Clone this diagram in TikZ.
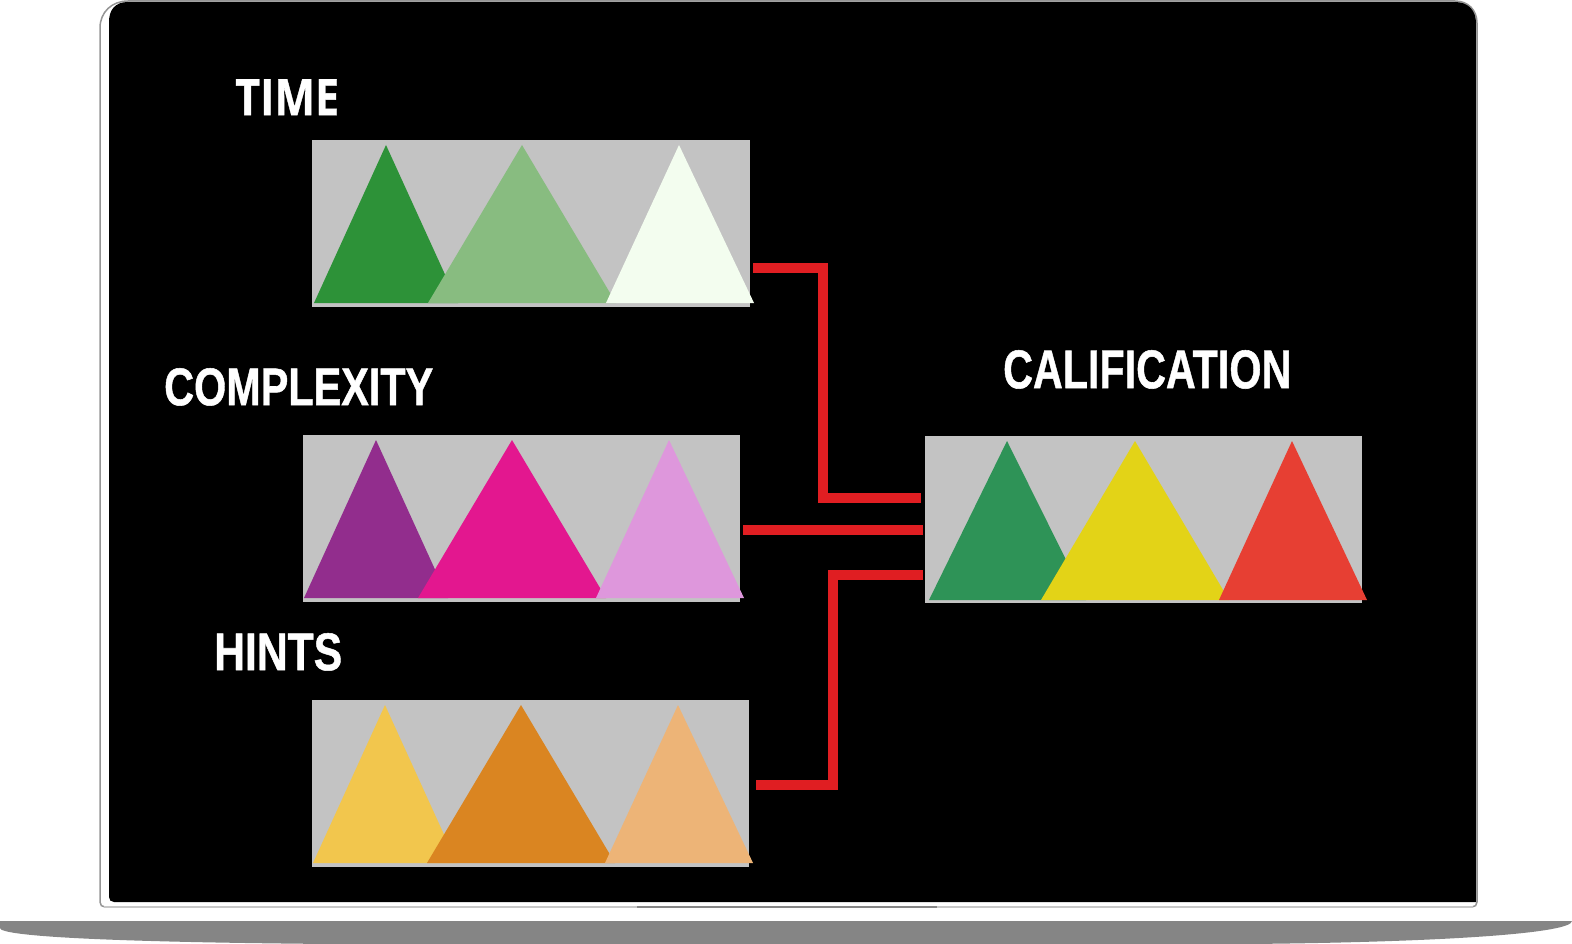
\documentclass[tikz,border=0pt]{standalone}
\usepackage{fontspec}
\usepackage{graphicx}
\newfontfamily\timefont[BoldFeatures={FakeBold=0.8}]{Open Sans}
\newfontfamily\condfont[BoldFeatures={FakeBold=1.0}]{Liberation Sans}
\definecolor{panelgray}{HTML}{C3C3C3}
\definecolor{connred}{HTML}{E01E22}
\definecolor{basegray}{HTML}{858585}
\definecolor{framegray}{HTML}{959595}
\definecolor{framelight}{HTML}{C8C8C8}
\definecolor{tA}{HTML}{2D9238}
\definecolor{tB}{HTML}{88BC80}
\definecolor{tC}{HTML}{F3FDEF}
\definecolor{cA}{HTML}{922D8D}
\definecolor{cB}{HTML}{E3178F}
\definecolor{cC}{HTML}{DE97DC}
\definecolor{hA}{HTML}{F2C64D}
\definecolor{hB}{HTML}{DA8521}
\definecolor{hC}{HTML}{EDB477}
\definecolor{qA}{HTML}{2E9357}
\definecolor{qB}{HTML}{E3D317}
\definecolor{qC}{HTML}{E73F33}
\begin{document}
\begin{tikzpicture}[x=1pt,y=-1pt,
  panel/.style={fill=panelgray, draw=none, inner sep=0pt, minimum width=437pt, minimum height=167pt, anchor=north west},
  conn/.style={draw=connred, line width=10pt, line join=miter},
  lbl/.style={text=white, inner sep=0pt, anchor=north west}]
\useasboundingbox (0,0) rectangle (1572,944);
% laptop base
\fill[basegray] (0,921) -- (1572,921) .. controls (1572,933) and (1450,942) .. (1250,944) -- (330,944) .. controls (100,942) and (0,936) .. (0,928) -- cycle;
% laptop frame
\draw[framegray, line width=1.5pt, fill=white] (100,902) -- (100,28) .. controls (100,12) and (112,1) .. (128,1) -- (1455,1) .. controls (1468,1) and (1477,10) .. (1477,23) -- (1477,902) .. controls (1477,905) and (1475,907) .. (1472,907) -- (105,907) .. controls (102,907) and (100,905) .. (100,902) -- cycle;
\draw[framelight, line width=1.5pt] (104,907) -- (1473,907);
\draw[framegray!90!black, line width=1.5pt] (637,907) -- (937,907);
% screen
\fill[black] (109,22) .. controls (109,10) and (115,2) .. (128,2) -- (1455,2) .. controls (1468,2) and (1476,10) .. (1476,23) -- (1476,902) -- (114,902) .. controls (111,902) and (109,900) .. (109,897) -- cycle;
% panels
\node[panel, minimum width=438pt] (time) at (312,140) {};
\node[panel] (complexity) at (303,435) {};
\node[panel] (hints) at (312,700) {};
\node[panel] (calif) at (925,436) {};
% TIME triangles
\fill[tA] (314,303) -- (386,145) -- (458,303) -- cycle;
\fill[tB] (428,303) -- (522,145) -- (616,303) -- cycle;
\fill[tC] (606,303) -- (679,145) -- (754,303) -- cycle;
% COMPLEXITY triangles
\fill[cA] (304,598) -- (376,440) -- (448,598) -- cycle;
\fill[cB] (418,598) -- (512,440) -- (606,598) -- cycle;
\fill[cC] (596,598) -- (669,440) -- (744,598) -- cycle;
% HINTS triangles
\fill[hA] (313,863) -- (385,705) -- (457,863) -- cycle;
\fill[hB] (427,863) -- (521,705) -- (615,863) -- cycle;
\fill[hC] (605,863) -- (678,705) -- (753,863) -- cycle;
% CALIFICATION triangles
\fill[qA] (929,600) -- (1007,441) -- (1086,600) -- cycle;
\fill[qB] (1041,600) -- (1135,441) -- (1229,600) -- cycle;
\fill[qC] (1219,600) -- (1292,441) -- (1367,600) -- cycle;
% connectors
\draw[conn] ([shift={(3,44.5)}]time.east) -| ++(70,230) -- ([shift={(-4,-21.5)}]calif.west);
\draw[conn] ([shift={(3,11.5)}]complexity.east) -- ([shift={(-2,10.5)}]calif.west);
\draw[conn] ([shift={(-2,55)}]calif.west) -| ++(-90,210.5) -- ([shift={(7,1.5)}]hints.east);
% labels
\node[lbl] (ltime) at (235,79) {\resizebox{104pt}{36pt}{\timefont\bfseries TIME}};
\node[lbl] (lcomplexity) at (164,368) {\resizebox{269pt}{37pt}{\condfont\bfseries COMPLEXITY}};
\node[lbl] (lhints) at (214,633) {\resizebox{128pt}{37pt}{\condfont\bfseries HINTS}};
\node[lbl] (lcalif) at (1003,350) {\resizebox{288pt}{38pt}{\condfont\bfseries CALIFICATION}};
\end{tikzpicture}
\end{document}
